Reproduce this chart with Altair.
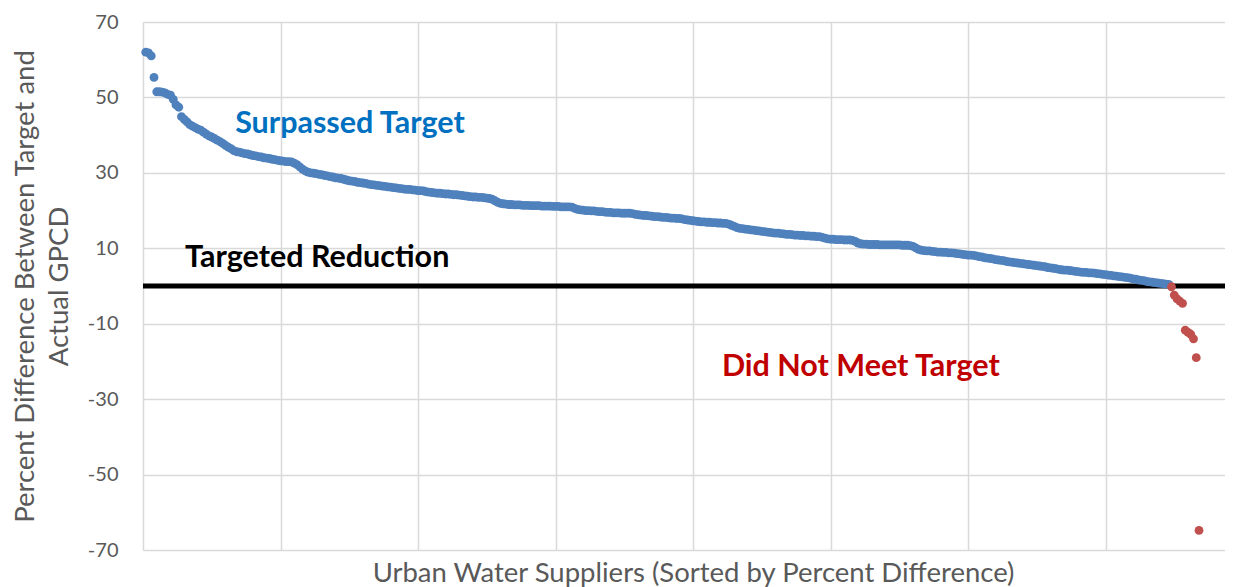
import altair as alt
import pandas as pd

# Percent difference between target and actual GPCD, suppliers sorted descending
blue_values = [
    62.0, 61.8, 61.0, 55.3, 51.5, 51.5, 51.4, 51.2, 50.8, 50.6,
    49.5, 48.0, 47.4, 44.9, 44.2, 43.5, 42.8, 42.4, 42.0, 41.6,
    41.3, 40.8, 40.3, 39.8, 39.5, 39.1, 38.7, 38.3, 37.8, 37.3,
    36.8, 36.4, 35.9, 35.6, 35.5, 35.3, 35.1, 35.0, 34.8, 34.6,
    34.5, 34.3, 34.2, 34.0, 33.9, 33.8, 33.6, 33.5, 33.3, 33.2,
    33.1, 33.0, 33.0, 32.9, 32.6, 32.2, 31.6, 31.0, 30.5, 30.2,
    30.0, 29.9, 29.8, 29.6, 29.5, 29.3, 29.2, 29.0, 28.9, 28.7,
    28.6, 28.5, 28.3, 28.1, 27.9, 27.8, 27.7, 27.5, 27.4, 27.3,
    27.2, 27.0, 26.9, 26.8, 26.7, 26.6, 26.5, 26.4, 26.3, 26.2,
    26.1, 26.0, 25.9, 25.8, 25.7, 25.6, 25.6, 25.5, 25.4, 25.3,
    25.3, 25.2, 25.0, 24.9, 24.8, 24.7, 24.6, 24.6, 24.5, 24.4,
    24.4, 24.3, 24.2, 24.2, 24.1, 24.0, 23.9, 23.8, 23.7, 23.6,
    23.6, 23.5, 23.5, 23.4, 23.3, 23.2, 23.0, 22.6, 22.2, 21.9,
    21.8, 21.7, 21.6, 21.6, 21.5, 21.5, 21.5, 21.4, 21.4, 21.4,
    21.3, 21.3, 21.3, 21.3, 21.2, 21.2, 21.2, 21.2, 21.1, 21.1,
    21.1, 21.0, 21.0, 21.0, 21.0, 20.9, 20.6, 20.3, 20.2, 20.1,
    20.0, 20.0, 19.9, 19.9, 19.8, 19.7, 19.7, 19.6, 19.5, 19.5,
    19.4, 19.4, 19.4, 19.3, 19.3, 19.3, 19.3, 19.2, 19.0, 18.9,
    18.8, 18.7, 18.7, 18.6, 18.5, 18.4, 18.4, 18.3, 18.2, 18.2,
    18.1, 18.0, 18.0, 17.9, 17.9, 17.8, 17.6, 17.5, 17.4, 17.3,
    17.2, 17.1, 17.0, 17.0, 16.9, 16.9, 16.8, 16.8, 16.7, 16.7,
    16.6, 16.6, 16.4, 16.1, 15.8, 15.5, 15.3, 15.2, 15.1, 15.0,
    14.9, 14.8, 14.7, 14.6, 14.5, 14.4, 14.3, 14.2, 14.1, 14.0,
    14.0, 13.9, 13.8, 13.7, 13.7, 13.6, 13.5, 13.5, 13.4, 13.4,
    13.3, 13.3, 13.2, 13.2, 13.1, 13.1, 12.9, 12.7, 12.5, 12.4,
    12.4, 12.3, 12.3, 12.3, 12.2, 12.2, 12.2, 12.1, 11.8, 11.4,
    11.2, 11.1, 11.1, 11.0, 11.0, 11.0, 11.0, 10.9, 10.9, 10.9,
    10.9, 10.9, 10.9, 10.9, 10.9, 10.8, 10.8, 10.8, 10.7, 10.5,
    10.1, 9.7, 9.5, 9.4, 9.3, 9.3, 9.2, 9.1, 9.0, 9.0,
    8.9, 8.9, 8.8, 8.8, 8.7, 8.6, 8.5, 8.4, 8.3, 8.2,
    8.2, 8.1, 8.0, 7.8, 7.7, 7.5, 7.4, 7.3, 7.2, 7.0,
    6.9, 6.8, 6.7, 6.5, 6.4, 6.3, 6.2, 6.1, 6.0, 5.9,
    5.8, 5.7, 5.6, 5.5, 5.4, 5.3, 5.2, 5.1, 4.9, 4.8,
    4.7, 4.6, 4.4, 4.3, 4.2, 4.2, 4.1, 4.0, 3.9, 3.8,
    3.7, 3.6, 3.6, 3.5, 3.5, 3.4, 3.3, 3.2, 3.1, 3.0,
    2.9, 2.8, 2.7, 2.6, 2.5, 2.4, 2.3, 2.2, 2.1, 1.9,
    1.8, 1.6, 1.5, 1.4, 1.2, 1.1, 1.0, 0.9, 0.8, 0.7,
    0.6, 0.5, 0.4,
]
red_values = [-0.2, -2.4, -3.4, -4.0, -4.6, -11.7, -12.3, -12.8, -14.0, -19.0, -64.8]

x_grid_values = [0, 50, 100, 150, 200, 250, 300, 350]
y_tick_values = [-70, -50, -30, -10, 10, 30, 50, 70]

label_texts = ["Surpassed Target", "Targeted Reduction", "Did Not Meet Target"]
label_x = [33.5, 15.3, 210.5]
label_y = [40.6, 5.0, -23.9]
label_colors = ["#0070C0", "#000000", "#C00000"]

n_blue = len(blue_values)
n_red = len(red_values)
df = pd.DataFrame({
    "supplier": list(range(1, n_blue + n_red + 1)),
    "pct": blue_values + red_values,
    "status": ["Surpassed"] * n_blue + ["Missed"] * n_red,
})
labels = pd.DataFrame({"supplier": label_x, "pct": label_y,
                       "text": label_texts, "color": label_colors})
zero_line = pd.DataFrame({"pct": [0]})

FONT = "Lato"
GRAY = "#595959"
GRID = "#D9D9D9"

x_enc = alt.X(
    "supplier:Q",
    scale=alt.Scale(domain=[0, 393.45], nice=False, zero=False),
    axis=alt.Axis(
        values=x_grid_values, labels=False, ticks=False, domain=False,
        grid=True, gridColor=GRID, gridWidth=1.5,
        title="Urban Water Suppliers (Sorted by Percent Difference)",
        titleFont=FONT, titleFontSize=27.5, titleFontWeight="normal",
        titleColor=GRAY, titleBaseline="alphabetic", titleY=31,
        titleX=550, titleAlign="center",
    ),
)
y_enc = alt.Y(
    "pct:Q",
    scale=alt.Scale(domain=[-70, 70], nice=False),
    axis=alt.Axis(
        values=y_tick_values, ticks=False, domain=False,
        grid=True, gridColor=GRID, gridWidth=1.5,
        labelFont=FONT, labelFontSize=20, labelColor=GRAY, labelPadding=25,
        labelExpr="'' + datum.value",
        title=["Percent Difference Between Target and", "Actual GPCD"],
        titleFont=FONT, titleFontSize=27.5, titleFontWeight="normal",
        titleColor=GRAY, titleAngle=-90, titleAlign="center",
        titleBaseline="alphabetic", titleX=-110, titleY=264, titleLineHeight=34,
    ),
)

rule = alt.Chart(zero_line).mark_rule(color="black", strokeWidth=5).encode(y=y_enc)

points = alt.Chart(df).mark_circle(size=78, opacity=1).encode(
    x=x_enc,
    y=y_enc,
    color=alt.Color("status:N",
                    scale=alt.Scale(domain=["Surpassed", "Missed"],
                                    range=["#4F81BD", "#C0504D"]),
                    legend=None),
)

text = alt.Chart(labels).mark_text(
    align="left", baseline="alphabetic", font=FONT, fontWeight="bold", fontSize=30.5
).encode(x=x_enc, y=y_enc, text="text:N", color=alt.Color("color:N", scale=None))

chart = alt.layer(rule, points, text).properties(
    width=1082, height=528,
    autosize=alt.AutoSizeParams(type="none"),
    padding={"left": 135, "top": 14, "right": 0, "bottom": 37},
).configure_view(stroke=None)

chart.save("out.html", embed_options={"renderer": "svg", "actions": False})
